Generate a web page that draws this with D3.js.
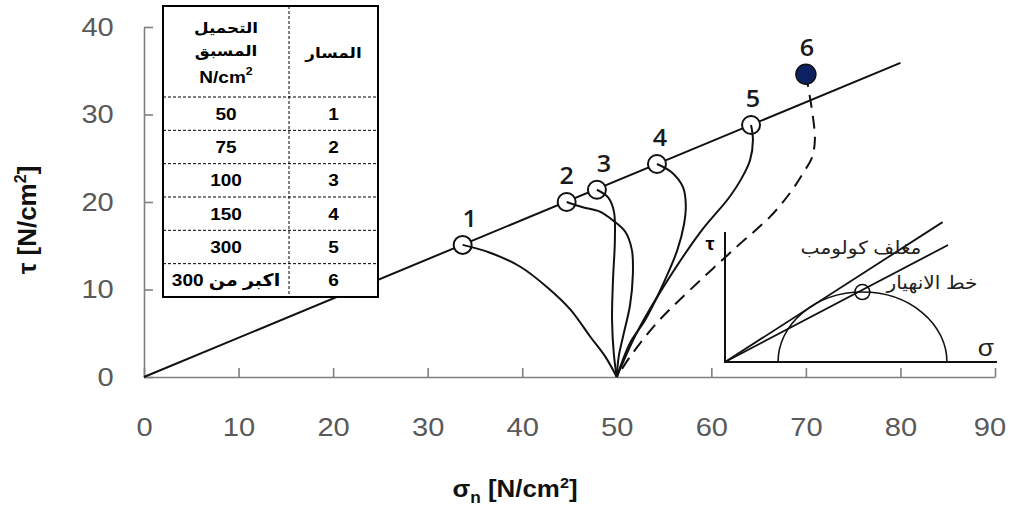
<!DOCTYPE html>
<html>
<head>
<meta charset="utf-8">
<script src="https://cdn.jsdelivr.net/npm/d3@7"></script>
<style>
  body { margin: 0; background: #fff; }
  svg { display: block; }
</style>
</head>
<body>
<svg id="chart" width="1010" height="507"></svg>
<script>
// ---- data ----
const xTicks = [0, 10, 20, 30, 40, 50, 60, 70, 80, 90];
const yTicks = [0, 10, 20, 30, 40];

// failure line tau = tan(phi) * sigma_n
const envelope = [[0, 0], [80, 35.9]];

// failure points reached by each stress path [sigma_n, tau]
const pathIds = ["1", "2", "3", "4", "5", "6"];
const failureSigma = [33.7, 44.7, 47.9, 54.25, 64.2, 70.0];
const failureTau   = [15.1, 20.0, 21.4, 24.34, 28.8, 34.6];

// stress paths, all starting from sigma_n = 50, tau = 0 (listed from the failure point down)
const path1 = [[33.7,15.1],[36.6,14.2],[39.8,12.6],[42.7,10.2],[45.1,7.7],[47.2,4.6],[48.8,2.3],[50,0]];
const path2 = [[44.7,20.0],[46.4,19.4],[48.2,18.9],[49.6,17.9],[50.9,16.6],[51.6,14.5],[51.7,11.7],[51.4,8.2],[50.7,4.8],[50.2,2.3],[50,0]];
const path3 = [[47.9,21.4],[49.1,20.5],[49.7,18.9],[49.8,15.7],[49.6,11.1],[49.5,6.5],[49.7,2.5],[50,0]];
const path4 = [[54.25,24.34],[55.8,23.4],[57.0,21.7],[57.3,19.7],[57.1,17.4],[56.4,14.5],[55.1,11.1],[53.0,6.5],[51.4,3.9],[50,0]];
const path5 = [[64.2,28.8],[64.4,27.1],[64.1,24.8],[63.2,22.7],[61.8,20.4],[58.8,16.5],[54.25,9.1],[51.9,4.6],[50,0]];
const path6 = [[70.0,34.6],[70.2,33.4],[70.75,29.7],[70.95,27.1],[70.65,25.1],[69.7,23.3],[68.3,21.0],[66.2,18.3],[62.7,14.9],[57.7,9.9],[54.25,6.2],[51.4,2.3],[50,0]];
const stressPaths = [path1, path2, path3, path4, path5, path6];

// table: path number and preconsolidation load
const tableHeadPath = "المسار";
const tableHeadLoad = ["التحميل", "المسبق"];
const tableIds = ["1", "2", "3", "4", "5", "6"];
const tableLoads = ["50", "75", "100", "150", "300", "اكبر من 300"];

// small sketch: Coulomb envelope, failure line and Mohr circle
const sketchCoulomb = [[0, 0], [8.0, 5.38]];
const sketchFailure = [[0, 0], [8.2, 4.5]];
const sketchCircle = [1.95, 8.16];      // sigma_3, sigma_1
const sketchPeak = [5.05, 2.69];
const sketchLabels = ["مغلف كولومب", "خط الانهيار"];

// ---- drawing ----
const svg = d3.select("#chart");
const x = d3.scaleLinear().domain([0, 90]).range([144, 995]);
const y = d3.scaleLinear().domain([0, 40]).range([377, 27]);

const SX = 1.12; // horizontal stretch of the lettering
const sans = "'Liberation Sans', Arial, 'DejaVu Sans', sans-serif";
const axisGrey = "#808080";
const tickGrey = "#595959";

function label(parent, px, py, str, o = {}) {
  const g = parent.append("g").attr("transform", `translate(${px},${py}) scale(${o.sx ?? SX},1)`);
  const t = g.append("text")
    .attr("text-anchor", o.anchor || "middle")
    .attr("font-family", o.family || sans)
    .attr("font-size", o.size || 17)
    .attr("font-weight", o.weight || "normal")
    .attr("fill", o.fill || "#000");
  if (o.rtl) t.attr("direction", "rtl");
  t.text(str);
  return t;
}

// axes
const xAxis = svg.append("g").attr("transform", `translate(0,${y(0)})`)
  .call(d3.axisBottom(x).tickValues(xTicks).tickSizeInner(-9).tickSizeOuter(0).tickPadding(41));
const yAxis = svg.append("g").attr("transform", `translate(${x(0)},0)`)
  .call(d3.axisLeft(y).tickValues(yTicks).tickSizeInner(-9).tickSizeOuter(0).tickPadding(27));
[xAxis, yAxis].forEach(a => {
  a.select(".domain").attr("stroke", axisGrey).attr("stroke-width", 1.6);
  a.selectAll(".tick line").attr("stroke", axisGrey).attr("stroke-width", 1.6);
  a.selectAll(".tick text")
    .attr("font-family", sans).attr("font-size", 26).attr("fill", tickGrey)
    .attr("transform", `scale(${SX},1)`);
});
// keep the last x label inside the frame
xAxis.selectAll(".tick text").filter(d => d === 90).attr("x", -5);

// failure envelope
const line = d3.line().x(d => x(d[0])).y(d => y(d[1]));
svg.append("path").datum(envelope).attr("d", line)
  .attr("fill", "none").attr("stroke", "#111").attr("stroke-width", 2);

// open failure points (1-5)
const pts = pathIds.map((id, i) => ({ id, s: failureSigma[i], t: failureTau[i] }));
svg.selectAll("circle.open").data(pts.slice(0, 5)).join("circle")
  .attr("class", "open")
  .attr("cx", d => x(d.s)).attr("cy", d => y(d.t)).attr("r", 9)
  .attr("fill", "#fff").attr("stroke", "#111").attr("stroke-width", 2);

// stress paths
const curve = d3.line().x(d => x(d[0])).y(d => y(d[1])).curve(d3.curveCatmullRom.alpha(0.5));
svg.selectAll("path.sp").data(stressPaths).join("path")
  .attr("class", "sp")
  .attr("d", curve)
  .attr("fill", "none").attr("stroke", "#111").attr("stroke-width", 2)
  .attr("stroke-dasharray", (d, i) => i === 5 ? "13,8" : null);

// filled point 6
svg.append("circle").attr("cx", x(pts[5].s)).attr("cy", y(pts[5].t)).attr("r", 10)
  .attr("fill", "#0b2161").attr("stroke", "#111").attr("stroke-width", 1.5);

// point numbers
const numDx = [7, 0, 7, 3, 2, 1];
pts.forEach((d, i) => {
  label(svg, x(d.s) + numDx[i], y(d.t) - 18, d.id,
    { size: 24, weight: 600, family: "'Open Sans', 'Liberation Sans', sans-serif", fill: "#1a1a1a", sx: 1.05 });
});

// small sketch
const ix = d3.scaleLinear().domain([0, 10]).range([725, 997]);
const iy = d3.scaleLinear().domain([0, 5]).range([362, 232]);
const sk = svg.append("g");
const iline = d3.line().x(d => ix(d[0])).y(d => iy(d[1]));
sk.append("path").attr("d", iline([[0, 5], [0, 0], [10, 0]]))
  .attr("fill", "none").attr("stroke", "#111").attr("stroke-width", 2);
[sketchCoulomb, sketchFailure].forEach(l =>
  sk.append("path").attr("d", iline(l)).attr("fill", "none").attr("stroke", "#111").attr("stroke-width", 1.8));
const rx = (ix(sketchCircle[1]) - ix(sketchCircle[0])) / 2;
const ry = iy(0) - iy(sketchPeak[1]);
sk.append("path")
  .attr("d", `M${ix(sketchCircle[0])},${iy(0)} A${rx},${ry} 0 0 1 ${ix(sketchCircle[1])},${iy(0)}`)
  .attr("fill", "none").attr("stroke", "#111").attr("stroke-width", 1.6);
sk.append("circle").attr("cx", ix(sketchPeak[0])).attr("cy", iy(sketchPeak[1])).attr("r", 7.5)
  .attr("fill", "none").attr("stroke", "#111").attr("stroke-width", 1.6);
label(sk, 710, 250, "τ", { size: 18, weight: "bold" });
label(sk, 986, 356, "σ", { size: 24, sx: 1.1, fill: "#222" });
label(sk, 861, 254, sketchLabels[0], { size: 18, fill: "#222", rtl: true, sx: 1.12 });
label(sk, 932, 289, sketchLabels[1], { size: 18, fill: "#222", rtl: true, sx: 1.12 });

// table
const T = { x0: 163, x1: 378, xDiv: 289, y0: 6, yHead: 97, rowH: 33.33 };
const tb = svg.append("g");
const yBottom = T.yHead + T.rowH * tableIds.length;
tb.append("rect").attr("x", T.x0).attr("y", T.y0).attr("width", T.x1 - T.x0).attr("height", yBottom - T.y0)
  .attr("fill", "#fff").attr("stroke", "#000").attr("stroke-width", 2);
tb.append("line").attr("x1", T.xDiv).attr("x2", T.xDiv).attr("y1", T.y0).attr("y2", yBottom)
  .attr("stroke", "#000").attr("stroke-width", 1).attr("stroke-dasharray", "3,2");
tableIds.forEach((id, i) => {
  const top = T.yHead + i * T.rowH;
  tb.append("line").attr("x1", T.x0).attr("x2", T.x1).attr("y1", top).attr("y2", top)
    .attr("stroke", "#000").attr("stroke-width", 1).attr("stroke-dasharray", "3,2");
  label(tb, (T.x0 + T.xDiv) / 2, top + T.rowH / 2 + 6, tableLoads[i], { size: 17, weight: "bold", rtl: true, sx: 1.12 });
  label(tb, (T.xDiv + T.x1) / 2, top + T.rowH / 2 + 6, id, { size: 17, weight: "bold", sx: 1.12 });
});
label(tb, (T.x0 + T.xDiv) / 2, 33, tableHeadLoad[0], { size: 15, weight: "bold", rtl: true, sx: 1.12 });
label(tb, (T.x0 + T.xDiv) / 2, 56, tableHeadLoad[1], { size: 15, weight: "bold", rtl: true, sx: 1.12 });
const unit = label(tb, (T.x0 + T.xDiv) / 2, 83, "", { size: 17, weight: "bold", sx: 1.12 });
unit.append("tspan").text("N/cm");
unit.append("tspan").attr("font-size", 11).attr("dy", -8).text("2");
label(tb, (T.xDiv + T.x1) / 2, 58, tableHeadPath, { size: 15, weight: "bold", rtl: true, sx: 1.12 });

// axis titles
const yt = svg.append("g").attr("transform", `translate(36,220) rotate(-90)`).append("text")
  .attr("text-anchor", "middle").attr("font-family", sans).attr("font-size", 26).attr("font-weight", "bold")
  .attr("fill", "#111");
yt.append("tspan").text("τ [N/cm");
yt.append("tspan").attr("font-size", 16).attr("dy", -10).text("2");
yt.append("tspan").attr("dy", 10).text("]");

const xt = label(svg, 515, 497, "", { size: 24, weight: "bold", fill: "#111", sx: 1.08 });
xt.append("tspan").text("σ");
xt.append("tspan").attr("font-size", 16).attr("dy", 6).text("n");
xt.append("tspan").attr("dy", -6).text(" [N/cm");
xt.append("tspan").attr("font-size", 15).attr("dy", -9).text("2");
xt.append("tspan").attr("dy", 9).text("]");
</script>
</body>
</html>
